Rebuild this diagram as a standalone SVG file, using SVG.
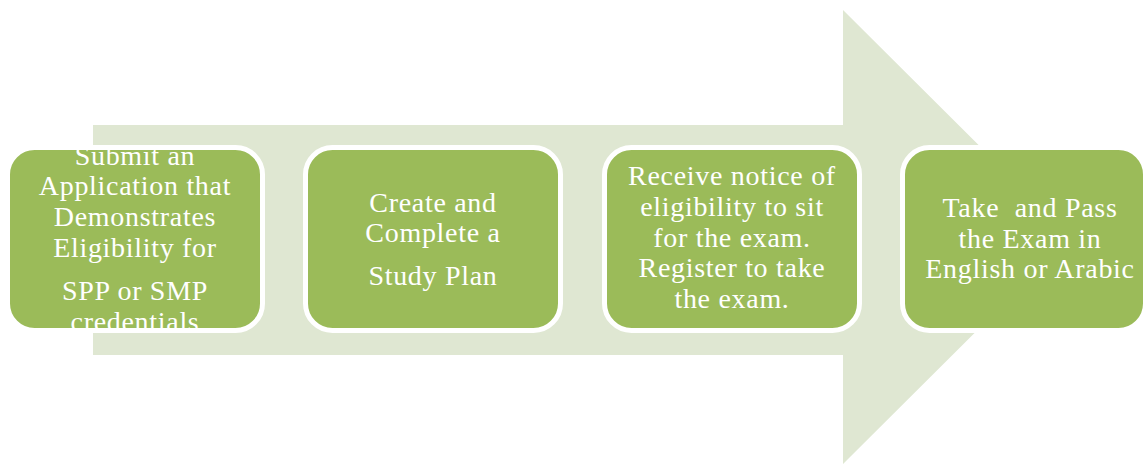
<svg xmlns="http://www.w3.org/2000/svg" width="1143" height="465" viewBox="0 0 1143 465">
<style>
.box{fill:#9BBB59;stroke:#FFFFFF;stroke-width:5}
.t{font-family:"Liberation Serif","DejaVu Serif",serif;font-size:28px;letter-spacing:0.7px;fill:#FFFFFF;text-anchor:middle}
</style>
<defs>
<clipPath id="c1"><rect x="10" y="150" width="250" height="178" rx="25"/></clipPath>
</defs>
<rect width="1143" height="465" fill="#FFFFFF"/>
<g id="arrow">
<path d="M93,125 H843 V10 L1071,237 L843,464 V355 H93 Z" fill="#DFE7D2"/>
</g>
<g id="connectors"></g>
<g id="node1">
<rect class="box" x="7.5" y="147.5" width="255" height="183" rx="27"/>
<g clip-path="url(#c1)">
<text class="t" x="135" y="165">Submit an</text>
<text class="t" x="135" y="195">Application that</text>
<text class="t" x="135" y="226">Demonstrates</text>
<text class="t" x="135" y="257">Eligibility for</text>
<text class="t" x="135" y="300">SPP or SMP</text>
<text class="t" x="135" y="331">credentials</text>
</g>
</g>
<g id="node2">
<rect class="box" x="305.5" y="147.5" width="255" height="183" rx="27"/>
<text class="t" x="433" y="212">Create and</text>
<text class="t" x="433" y="242">Complete a</text>
<text class="t" x="433" y="285">Study Plan</text>
</g>
<g id="node3">
<rect class="box" x="604.5" y="147.5" width="255" height="183" rx="27"/>
<text class="t" x="732" y="185">Receive notice of</text>
<text class="t" x="732" y="216">eligibility to sit</text>
<text class="t" x="732" y="247">for the exam.</text>
<text class="t" x="732" y="277">Register to take</text>
<text class="t" x="732" y="308">the exam.</text>
</g>
<g id="node4">
<rect class="box" x="902.5" y="147.5" width="243" height="183" rx="27"/>
<text class="t" x="1030" y="217" xml:space="preserve">Take  and Pass</text>
<text class="t" x="1030" y="248">the Exam in</text>
<text class="t" x="1030" y="278">English or Arabic</text>
</g>
</svg>
